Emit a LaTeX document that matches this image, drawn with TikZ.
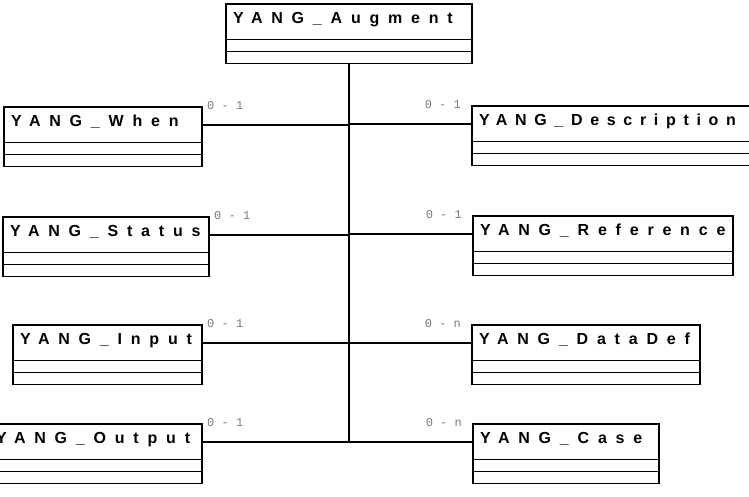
\documentclass[tikz,border=0pt]{standalone}
\usepackage{fontspec}
\usepackage{tikz}
\usetikzlibrary{shapes.multipart, calc}
\newfontfamily\classfont[LetterSpace=55]{Liberation Sans}
\newfontfamily\classfontnarrow[LetterSpace=48]{Liberation Sans}
\newfontfamily\multfont{Liberation Mono}
\definecolor{multgray}{HTML}{7A7A7A}

\begin{document}
\begin{tikzpicture}[
    x=1pt, y=1pt,
    classbox/.style={draw, line width=1.6pt, rectangle split, rectangle split parts=3,
        rectangle split part align=left, rectangle split empty part height=2.2pt,
        inner xsep=7pt, inner ysep=3pt, outer sep=0pt, anchor=north west,
        font=\classfont\bfseries\fontsize{16}{16}\selectfont,
        execute at begin node={\rule[-12pt]{0pt}{28pt}}},
    narrow/.style={font=\classfontnarrow\bfseries\fontsize{16}{16}\selectfont},
    link/.style={line width=1.8pt},
    mult/.style={font=\multfont\fontsize{12}{12}\selectfont, text=multgray, inner sep=0pt},
]
    \useasboundingbox (0,0) rectangle (749,-496);

    % Parent class
    \node[classbox, minimum width=246pt] (augment) at (226,-4) {YANG\_Augment};

    % Children (left side)
    \node[classbox, minimum width=198pt] (when) at (4,-107) {YANG\_When};
    \node[classbox, minimum width=206pt] (status) at (3,-217) {YANG\_Status};
    \node[classbox, minimum width=189pt] (input) at (13,-325) {YANG\_Input};
    \node[classbox, minimum width=213pt] (output) at (-11,-424) {YANG\_Output};

    % Children (right side)
    \node[classbox, narrow, minimum width=282pt] (description) at (472,-106) {YANG\_Description};
    \node[classbox, minimum width=260pt] (reference) at (473,-216) {YANG\_Reference};
    \node[classbox, minimum width=228pt] (datadef) at (472,-325) {YANG\_DataDef};
    \node[classbox, minimum width=186pt] (case) at (473,-424) {YANG\_Case};

    % Attachment points
    \coordinate (whenpt) at ($(when.north east)!.5!(when.text split east)$);
    \coordinate (statuspt) at ($(status.north east)!.5!(status.text split east)$);
    \coordinate (inputpt) at ($(input.north east)!.5!(input.text split east)$);
    \coordinate (outputpt) at ($(output.north east)!.5!(output.text split east)$);
    \coordinate (descriptionpt) at ($(description.north west)!.5!(description.text split west)$);
    \coordinate (referencept) at ($(reference.north west)!.5!(reference.text split west)$);
    \coordinate (datadefpt) at ($(datadef.north west)!.5!(datadef.text split west)$);
    \coordinate (casept) at ($(case.north west)!.5!(case.text split west)$);

    % Links
    \draw[link] (augment.south) -- (augment.south |- outputpt);
    \draw[link] (whenpt) -- (whenpt -| augment.south);
    \draw[link] (statuspt) -- (statuspt -| augment.south);
    \draw[link] (inputpt) -- (inputpt -| augment.south);
    \draw[link] (outputpt) -- (outputpt -| augment.south);
    \draw[link] (descriptionpt) -- (descriptionpt -| augment.south);
    \draw[link] (referencept) -- (referencept -| augment.south);
    \draw[link] (datadefpt) -- (datadefpt -| augment.south);
    \draw[link] (casept) -- (casept -| augment.south);

    % Multiplicities
    \node[mult, anchor=base west] (whenmult) at ($(whenpt)+(5,15)$) {0 - 1};
    \node[mult, anchor=base west] (statusmult) at ($(statuspt)+(5,15)$) {0 - 1};
    \node[mult, anchor=base west] (inputmult) at ($(inputpt)+(5,15)$) {0 - 1};
    \node[mult, anchor=base west] (outputmult) at ($(outputpt)+(5,15)$) {0 - 1};
    \node[mult, anchor=base east] (descriptionmult) at ($(descriptionpt)+(-11,15)$) {0 - 1};
    \node[mult, anchor=base east] (referencemult) at ($(referencept)+(-11,15)$) {0 - 1};
    \node[mult, anchor=base east] (datadefmult) at ($(datadefpt)+(-11,15)$) {0 - n};
    \node[mult, anchor=base east] (casemult) at ($(casept)+(-11,15)$) {0 - n};

\end{tikzpicture}
\end{document}
